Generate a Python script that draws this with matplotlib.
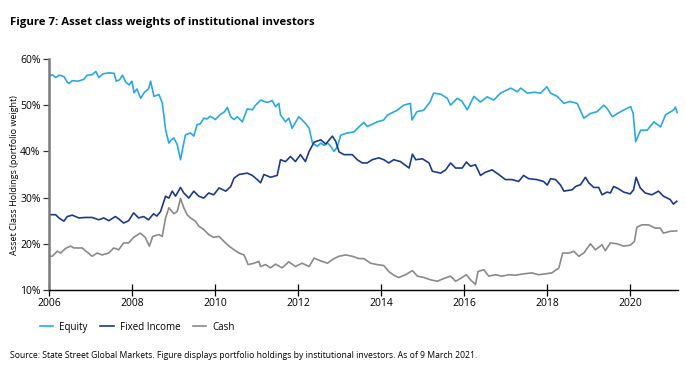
import matplotlib
matplotlib.use('Agg')
import matplotlib.pyplot as plt
import matplotlib.ticker as mtick

plt.rcParams['font.family'] = ['Open Sans', 'DejaVu Sans']

# Equity
eq_years = [2006.00, 2006.08, 2006.16, 2006.25, 2006.36, 2006.44, 2006.48, 2006.56, 2006.70, 2006.84,
            2006.92, 2007.04, 2007.13, 2007.20, 2007.30, 2007.45, 2007.57, 2007.62, 2007.70, 2007.77,
            2007.85, 2007.93, 2008.00, 2008.05, 2008.12, 2008.21, 2008.30, 2008.40, 2008.45, 2008.53,
            2008.65, 2008.73, 2008.78, 2008.81, 2008.89, 2008.95, 2009.01, 2009.09, 2009.17, 2009.23,
            2009.29, 2009.41, 2009.49, 2009.57, 2009.65, 2009.73, 2009.80, 2009.89, 2010.01, 2010.13,
            2010.22, 2010.30, 2010.38, 2010.46, 2010.54, 2010.66, 2010.78, 2010.90, 2010.98, 2011.10,
            2011.26, 2011.38, 2011.46, 2011.54, 2011.58, 2011.70, 2011.78, 2011.86, 2012.02, 2012.10,
            2012.19, 2012.27, 2012.35, 2012.47, 2012.55, 2012.63, 2012.72, 2012.79, 2012.87, 2012.95,
            2013.03, 2013.19, 2013.35, 2013.47, 2013.59, 2013.67, 2013.75, 2013.91, 2014.07, 2014.15,
            2014.23, 2014.39, 2014.55, 2014.71, 2014.75, 2014.87, 2015.03, 2015.19, 2015.27, 2015.44,
            2015.60, 2015.68, 2015.84, 2015.95, 2016.08, 2016.24, 2016.40, 2016.56, 2016.72, 2016.88,
            2017.13, 2017.29, 2017.37, 2017.53, 2017.70, 2017.85, 2018.00, 2018.09, 2018.25, 2018.41,
            2018.55, 2018.73, 2018.89, 2019.05, 2019.21, 2019.37, 2019.45, 2019.58, 2019.70, 2019.86,
            2020.02, 2020.08, 2020.14, 2020.26, 2020.42, 2020.58, 2020.74, 2020.86, 2021.06, 2021.10,
            2021.14]
equity = [56.2, 56.6, 56.0, 56.5, 56.2, 55.0, 54.7, 55.3, 55.2, 55.6,
          56.5, 56.6, 57.3, 56.0, 56.8, 57.0, 56.9, 55.2, 55.5, 56.5,
          55.0, 54.4, 55.2, 52.7, 53.5, 51.5, 52.8, 53.5, 55.2, 51.9,
          52.3, 50.5, 47.0, 44.7, 41.8, 42.5, 42.9, 41.5, 38.2, 41.0,
          43.6, 44.0, 43.3, 45.8, 46.0, 47.2, 47.0, 47.6, 46.9, 48.0,
          48.5, 49.5, 47.5, 46.9, 47.5, 46.4, 49.2, 49.0, 50.0, 51.1,
          50.6, 51.0, 49.7, 50.4, 47.9, 46.4, 47.2, 45.0, 47.5, 46.8,
          46.0, 45.0, 41.8, 41.1, 41.8, 41.3, 41.8, 41.1, 40.0, 41.0,
          43.5, 44.0, 44.2, 45.3, 46.3, 45.4, 45.7, 46.4, 46.8, 47.8,
          48.2, 48.9, 50.0, 50.4, 46.8, 48.6, 48.9, 50.8, 52.6, 52.4,
          51.5, 50.0, 51.5, 50.9, 49.0, 51.9, 50.7, 51.8, 51.1, 52.6,
          53.7, 52.9, 53.7, 52.6, 52.8, 52.6, 54.0, 52.6, 51.9, 50.4,
          50.8, 50.4, 47.2, 48.2, 48.6, 50.0, 49.3, 47.5, 48.2, 49.0,
          49.7, 48.2, 42.1, 44.6, 44.6, 46.4, 45.3, 47.9, 49.0, 49.6,
          48.4]

# Fixed Income
fi_years = [2006.00, 2006.16, 2006.24, 2006.36, 2006.44, 2006.56, 2006.72, 2006.88, 2007.04, 2007.20,
            2007.32, 2007.44, 2007.60, 2007.68, 2007.80, 2007.92, 2008.04, 2008.16, 2008.28, 2008.40,
            2008.52, 2008.60, 2008.69, 2008.81, 2008.89, 2008.97, 2009.05, 2009.17, 2009.25, 2009.37,
            2009.49, 2009.61, 2009.73, 2009.85, 2009.97, 2010.10, 2010.26, 2010.38, 2010.46, 2010.58,
            2010.78, 2010.90, 2011.02, 2011.10, 2011.18, 2011.34, 2011.50, 2011.58, 2011.70, 2011.82,
            2011.94, 2012.06, 2012.18, 2012.27, 2012.39, 2012.55, 2012.67, 2012.83, 2012.91, 2012.99,
            2013.11, 2013.31, 2013.43, 2013.55, 2013.67, 2013.79, 2013.95, 2014.07, 2014.19, 2014.31,
            2014.47, 2014.68, 2014.76, 2014.84, 2015.00, 2015.16, 2015.24, 2015.44, 2015.56, 2015.68,
            2015.80, 2015.96, 2016.06, 2016.16, 2016.28, 2016.40, 2016.52, 2016.68, 2016.84, 2017.00,
            2017.16, 2017.32, 2017.44, 2017.56, 2017.76, 2017.92, 2018.01, 2018.09, 2018.21, 2018.33,
            2018.41, 2018.61, 2018.69, 2018.81, 2018.93, 2019.01, 2019.13, 2019.25, 2019.33, 2019.45,
            2019.53, 2019.61, 2019.73, 2019.85, 2020.01, 2020.09, 2020.15, 2020.25, 2020.37, 2020.53,
            2020.69, 2020.81, 2020.97, 2021.05, 2021.13]
fixed_income = [26.3, 26.3, 25.6, 24.9, 25.9, 26.2, 25.6, 25.7, 25.7, 25.2,
                25.6, 25.0, 25.9, 25.4, 24.5, 25.0, 26.7, 25.6, 25.9, 25.2,
                26.5, 26.0, 27.0, 30.3, 29.9, 31.4, 30.3, 32.2, 31.0, 29.9,
                31.4, 30.3, 29.9, 31.0, 30.6, 32.1, 31.4, 32.4, 34.2, 35.0,
                35.3, 34.8, 33.9, 33.2, 35.0, 34.4, 34.8, 38.2, 37.8, 38.9,
                37.8, 39.3, 37.8, 40.0, 42.0, 42.5, 41.6, 43.3, 42.2, 39.9,
                39.3, 39.3, 38.2, 37.5, 37.5, 38.2, 38.6, 38.2, 37.5, 38.2,
                37.8, 36.4, 39.4, 38.2, 38.4, 37.5, 35.7, 35.3, 36.0, 37.5,
                36.4, 36.4, 37.7, 36.8, 37.1, 34.8, 35.5, 36.0, 35.0, 33.9,
                33.9, 33.5, 34.8, 34.1, 33.9, 33.5, 32.7, 34.1, 33.9, 32.7,
                31.4, 31.7, 32.4, 32.8, 34.4, 33.2, 32.2, 32.2, 30.6, 31.2,
                31.0, 32.4, 31.9, 31.2, 30.8, 31.7, 34.4, 32.1, 31.0, 30.6,
                31.4, 30.3, 29.6, 28.6, 29.2]

# Cash
cash_years = [2006.00, 2006.08, 2006.20, 2006.28, 2006.40, 2006.52, 2006.60, 2006.80, 2007.04, 2007.16,
              2007.28, 2007.44, 2007.56, 2007.68, 2007.80, 2007.92, 2008.04, 2008.20, 2008.32, 2008.42,
              2008.50, 2008.65, 2008.73, 2008.81, 2008.89, 2009.01, 2009.09, 2009.17, 2009.25, 2009.33,
              2009.41, 2009.53, 2009.61, 2009.73, 2009.85, 2009.97, 2010.10, 2010.22, 2010.34, 2010.46,
              2010.58, 2010.70, 2010.80, 2010.94, 2011.06, 2011.10, 2011.22, 2011.34, 2011.46, 2011.62,
              2011.78, 2011.94, 2012.10, 2012.27, 2012.39, 2012.55, 2012.71, 2012.87, 2012.99, 2013.15,
              2013.31, 2013.47, 2013.59, 2013.75, 2013.91, 2014.07, 2014.19, 2014.31, 2014.43, 2014.59,
              2014.76, 2014.88, 2015.04, 2015.20, 2015.36, 2015.52, 2015.68, 2015.80, 2015.92, 2016.06,
              2016.16, 2016.28, 2016.34, 2016.48, 2016.60, 2016.76, 2016.92, 2017.08, 2017.24, 2017.44,
              2017.64, 2017.80, 2017.96, 2018.12, 2018.29, 2018.38, 2018.53, 2018.65, 2018.77, 2018.89,
              2019.05, 2019.17, 2019.33, 2019.41, 2019.53, 2019.69, 2019.85, 2020.01, 2020.11, 2020.17,
              2020.29, 2020.45, 2020.61, 2020.73, 2020.81, 2020.97, 2021.13]
cash = [17.3, 17.3, 18.4, 18.0, 19.0, 19.5, 19.1, 19.1, 17.3, 18.0,
        17.6, 18.0, 19.1, 18.7, 20.2, 20.2, 21.4, 22.3, 21.4, 19.5,
        21.6, 22.0, 21.6, 25.6, 27.8, 26.5, 27.0, 29.8, 27.8, 26.3,
        25.6, 24.9, 23.8, 23.1, 22.0, 21.4, 21.6, 20.5, 19.5, 18.7,
        18.0, 17.6, 15.5, 15.8, 16.2, 15.1, 15.5, 14.8, 15.6, 14.8,
        16.1, 15.1, 15.8, 15.1, 16.9, 16.3, 15.8, 16.8, 17.3, 17.6,
        17.3, 16.8, 16.8, 15.8, 15.5, 15.3, 14.0, 13.2, 12.7, 13.3,
        14.2, 13.0, 12.7, 12.2, 11.9, 12.5, 13.0, 11.9, 12.5, 13.3,
        12.2, 11.2, 14.0, 14.4, 13.0, 13.3, 13.0, 13.3, 13.2, 13.5,
        13.7, 13.3, 13.5, 13.7, 14.8, 18.0, 18.0, 18.4, 17.3, 18.0,
        20.0, 18.7, 19.8, 18.5, 20.2, 20.0, 19.5, 19.7, 20.5, 23.6,
        24.1, 24.1, 23.4, 23.4, 22.3, 22.7, 22.8]

x_ticks = [2006, 2008, 2010, 2012, 2014, 2016, 2018, 2020]
y_ticks = [10, 20, 30, 40, 50, 60]

fig = plt.figure(figsize=(6.86, 3.76), dpi=100)
ax = fig.add_axes([0.0714, 0.2287, 0.9169, 0.6144])

ax.plot(eq_years, equity, color='#29a9e1', lw=1.2, label='Equity')
ax.plot(fi_years, fixed_income, color='#1d3a8a', lw=1.2, label='Fixed Income')
ax.plot(cash_years, cash, color='#8a8a8a', lw=1.2, label='Cash')

ax.set_xlim(2006, 2021.16)
ax.set_ylim(10, 60)
ax.set_xticks(x_ticks)
ax.set_yticks(y_ticks)
ax.yaxis.set_major_formatter(mtick.FuncFormatter(lambda v, p: f'{v:.0f}%'))

for s in ['top', 'right']:
    ax.spines[s].set_visible(False)
ax.spines['left'].set_color('#7a7a7a')
ax.spines['left'].set_linewidth(1.8)
ax.spines['bottom'].set_color('black')
ax.spines['bottom'].set_linewidth(1.0)

ax.tick_params(axis='x', direction='inout', length=8, width=0.9, labelsize=7.5, pad=2, colors='black')
ax.tick_params(axis='y', direction='out', length=4, width=0.9, labelsize=7.5, pad=2, color='#333333')

fig.text(0.021, 0.535, 'Asset Class Holdings (portfolio weight)', rotation=90,
         ha='center', va='center', fontsize=6.5)

fig.text(0.0146, 0.94, 'Figure 7: Asset class weights of institutional investors',
         fontsize=8.2, fontweight='bold', ha='left', va='center')

fig.legend(loc='center left', bbox_to_anchor=(0.045, 0.13), ncol=3, frameon=False,
           fontsize=7, handlelength=1.4, handletextpad=0.6, columnspacing=1.3)

fig.text(0.0146, 0.055, 'Source: State Street Global Markets. Figure displays portfolio holdings by '
         'institutional investors. As of 9 March 2021.', fontsize=6.2, ha='left', va='center')

fig.savefig('out.png', dpi=100)
